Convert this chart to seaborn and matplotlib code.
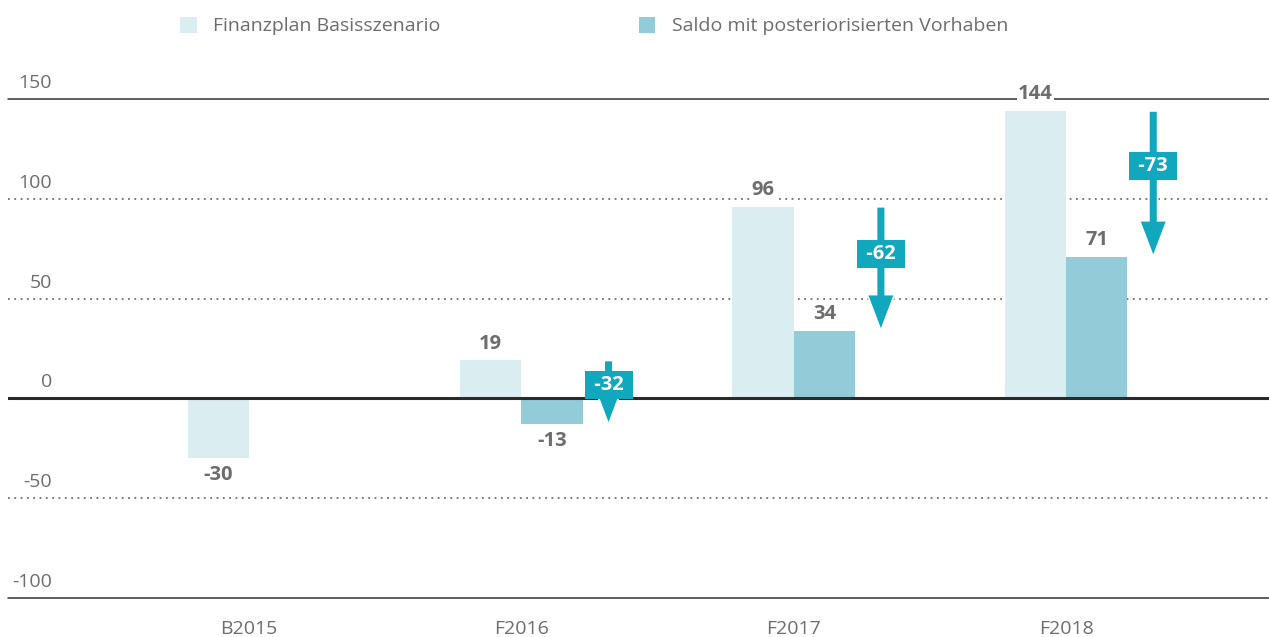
import matplotlib
matplotlib.use('Agg')
import matplotlib.pyplot as plt
import matplotlib.transforms as mtransforms
from matplotlib.patches import FancyArrow, Patch
import seaborn as sns
import pandas as pd

# data
years = ['B2015', 'F2016', 'F2017', 'F2018']
basis = [-30, 19, 96, 144]
saldo = [None, -13, 34, 71]
changes = [None, -32, -62, -73]
series_names = ['Finanzplan Basisszenario', 'Saldo mit posteriorisierten Vorhaben']
y_ticks = [150, 100, 50, 0, -50, -100]

LIGHT = '#daedf1'
DARK = '#93cbd8'
ARROW = '#11a7bc'
GREY = '#6d6d6d'
FONT = 'Open Sans'
FS = 14

rows = []
for y, b, s in zip(years, basis, saldo):
    rows.append({'Jahr': y, 'Serie': series_names[0], 'Wert': b})
    if s is not None:
        rows.append({'Jahr': y, 'Serie': series_names[1], 'Wert': s})
df = pd.DataFrame(rows)

sns.set_style('white')
plt.rcParams['font.family'] = [FONT, 'DejaVu Sans']

fig = plt.figure(figsize=(12.69, 6.37), dpi=100)
ax = fig.add_axes([8 / 1269, 39 / 637, 1 - 8 / 1269, 499 / 637])

sns.barplot(data=df, x='Jahr', y='Wert', hue='Serie', order=years,
            hue_order=series_names, palette=[LIGHT, DARK], width=0.45,
            saturation=1, dodge=True, legend=False, ax=ax, zorder=2,
            linewidth=0, edgecolor='none')

ax.set_ylim(-100, 150)
ax.set_xlim(-0.885, 3.745)
for s in ax.spines.values():
    s.set_visible(False)

# horizontal rules
for t in y_ticks:
    if t == 0:
        ax.axhline(t, color='#2a2a2a', lw=2.2, zorder=3)
    elif t in (150, -100):
        ax.axhline(t, color='#333333', lw=1.1, zorder=1, clip_on=False)
    else:
        ax.axhline(t, color='#707070', lw=1.3, ls=(0, (1, 2.5)), zorder=1)

# y labels above the rules
trans = mtransforms.blended_transform_factory(fig.transFigure, ax.transData)
trans = mtransforms.offset_copy(trans, fig=fig, y=5, units='points')
for t in y_ticks:
    ax.text(52 / 1269, t, f'{t}', transform=trans, ha='right', va='bottom',
            fontsize=FS, color=GREY)

ax.set_yticks([])
ax.set_xlabel('')
ax.set_ylabel('')
ax.tick_params(axis='x', length=0, pad=16, labelsize=FS, labelcolor=GREY)

# value labels
for cont in ax.containers:
    labels = ax.bar_label(cont, fmt='%d', padding=5, fontsize=14.5,
                          fontweight='bold', color=GREY)
    for lab in labels:
        lab.set_bbox(dict(facecolor='white', edgecolor='none', pad=1))
        lab.set_zorder(4)

# change arrows from basis to saldo
for i, (b, s, c) in enumerate(zip(basis, saldo, changes)):
    if c is None:
        continue
    x = i + 0.32
    arr = FancyArrow(x, b, 0, s - b, width=0.032, head_width=0.1,
                     head_length=18, length_includes_head=True,
                     facecolor=ARROW, edgecolor='white', lw=1.2, zorder=5)
    ax.add_patch(arr)
    ax.text(x, b + (s - b) * 0.38, f' {c} ', ha='center', va='center',
            fontsize=14.5, fontweight='bold', color='white', zorder=6,
            bbox=dict(facecolor=ARROW, edgecolor='none',
                      boxstyle='square,pad=0.2'))

handles = [Patch(facecolor=LIGHT, edgecolor='none'),
           Patch(facecolor=DARK, edgecolor='none')]
fig.legend(handles, series_names, loc='upper left',
           bbox_to_anchor=(180 / 1269, 1 - 17 / 637), ncol=2, frameon=False,
           fontsize=FS, handlelength=0.85, handleheight=0.85,
           handletextpad=0.85, columnspacing=10.2, borderpad=0,
           borderaxespad=0, labelcolor=GREY)

fig.savefig('out.png', dpi=100)
